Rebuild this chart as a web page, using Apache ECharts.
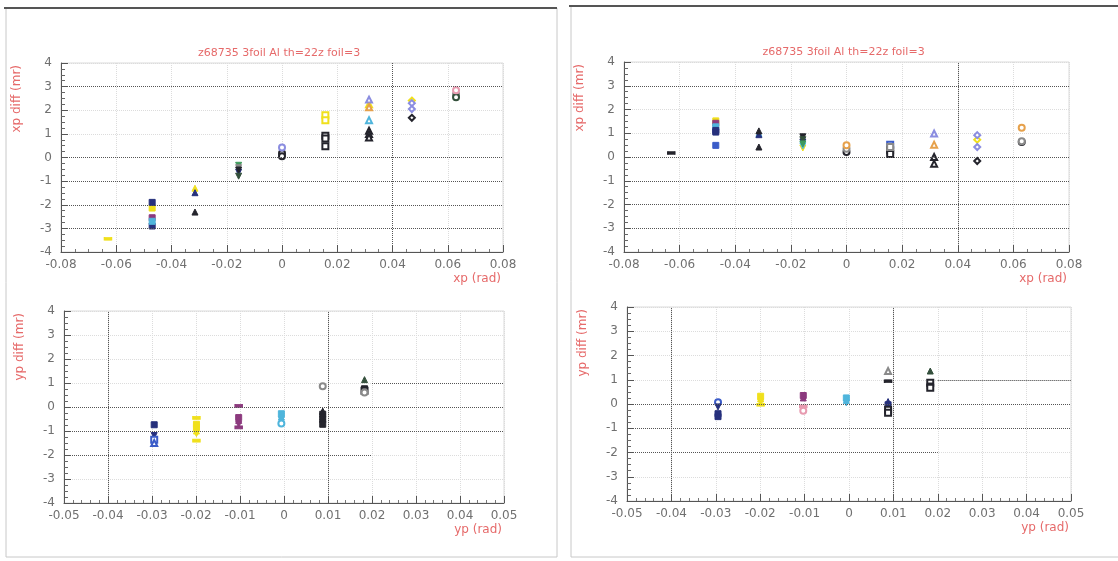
<!DOCTYPE html>
<html>
<head>
<meta charset="utf-8">
<title>z68735 3foil Al th=22z foil=3</title>
<script src="https://cdn.jsdelivr.net/npm/echarts@6/dist/echarts.min.js"></script>
<style>
html, body { margin: 0; padding: 0; background: #fff; }
#chart { width: 1118px; height: 561px; }
</style>
</head>
<body>
<div id="chart"></div>
<script>
// titles
var runTitle = 'z68735 3foil Al th=22z foil=3';
var xpRange = [-0.08, 0.08];
var ypRange = [-0.05, 0.05];
var diffRange = [-4, 4];

// sieve hole columns in xp, marker per column
var xpHoles = [-0.063, -0.047, -0.0315, -0.0157, 0, 0.0157, 0.0315, 0.047, 0.063];
var holeShapes = ['rect', 'rect', 'triangle', 'path://M0,0L10,0L5,9Z', 'emptyCircle',
  'emptyRect', 'emptyTriangle', 'emptyDiamond', 'emptyCircle'];

var colors = {
  navy: '#26307c', blue: '#3b5cc8', yellow: '#f0e01c', purple: '#8c3a7e',
  cyan: '#4fb5dc', green: '#3f9a5c', darkgreen: '#34503c', black: '#24242c',
  gray: '#8a8a8a', lavender: '#8b8de0', orange: '#e6a14c', pink: '#e79bb0'
};

// top left : xp diff vs xp   [xp, diff]
var tlYellow = [[-0.063, -3.44], [-0.047, -2.14], [-0.0315, -1.3], [0.0157, 1.79], [0.0157, 1.58], [0.0315, 2.25], [0.047, 2.41]];
var tlNavy = [[-0.047, -1.9], [-0.047, -2.9], [-0.0315, -1.49], [-0.0157, -0.62]];
var tlPurple = [[-0.047, -2.55]];
var tlCyan = [[-0.047, -2.7], [0.0315, 1.58]];
var tlGreen = [[-0.0157, -0.33]];
var tlGray = [[-0.0157, -0.43], [0.063, 2.68]];
var tlBlack = [[-0.0315, -2.31], [-0.0157, -0.53], [0, 0.18], [0, 0.05], [0.0157, 0.92], [0.0157, 0.8], [0.0157, 0.48],
  [0.0315, 1.13], [0.0315, 0.99], [0.0315, 0.85], [0.047, 1.68]];
var tlDarkgreen = [[-0.0157, -0.79], [0.063, 2.55]];
var tlLavender = [[0, 0.42], [0.0315, 2.45], [0.047, 2.3], [0.047, 2.05]];
var tlOrange = [[0.0315, 2.13]];
var tlPink = [[0.063, 2.85]];

// top right : xp diff vs xp
var trYellow = [[-0.047, 1.52], [-0.0157, 0.38], [0.047, 0.73]];
var trPurple = [[-0.047, 1.42]];
var trCyan = [[-0.047, 1.27], [-0.0315, 0.99], [-0.0157, 0.47]];
var trNavy = [[-0.047, 1.12], [-0.047, 1.05], [-0.0315, 0.94], [-0.0157, 0.63]];
var trBlue = [[-0.047, 0.49], [0.0157, 0.52]];
var trBlack = [[-0.063, 0.17], [-0.0315, 1.1], [-0.0315, 0.42], [-0.0157, 0.85], [0, 0.21], [0.0157, 0.28], [0.0157, 0.13],
  [0.0315, 0.0], [0.0315, -0.28], [0.047, -0.17], [0.063, 0.63]];
var trDarkgreen = [[-0.0157, 0.73]];
var trGreen = [[-0.0157, 0.55]];
var trGray = [[0, 0.35], [0.0157, 0.42], [0.063, 0.66]];
var trLavender = [[0.0315, 0.99], [0.047, 0.92], [0.047, 0.42]];
var trOrange = [[0, 0.49], [0.0315, 0.52], [0.063, 1.23]];

// bottom left : yp diff vs yp   [yp, diff, xp hole]
var blNavy = [[-0.0295, -0.74, 1], [-0.0295, -1.19, 3]];
var blBlue = [[-0.0295, -1.36, 5], [-0.0295, -1.5, 6]];
var blYellow = [[-0.0199, -0.45, 0], [-0.0199, -0.72, 1], [-0.0199, -0.85, 1], [-0.0199, -1.0, 2], [-0.0199, -1.11, 3], [-0.0199, -1.4, 0]];
var blPurple = [[-0.0103, 0.05, 0], [-0.0103, -0.44, 1], [-0.0103, -0.56, 2], [-0.0103, -0.72, 3], [-0.0103, -0.85, 0]];
var blCyan = [[-0.0006, -0.28, 1], [-0.0006, -0.42, 2], [-0.0006, -0.53, 3], [-0.0006, -0.69, 4]];
var blBlack = [[0.0088, -0.17, 2], [0.0088, -0.3, 1], [0.0088, -0.42, 3], [0.0088, -0.52, 1], [0.0088, -0.63, 3], [0.0088, -0.72, 1],
  [0.0183, 0.76, 1], [0.0183, 0.68, 5]];
var blGray = [[0.0088, 0.86, 4], [0.0183, 0.6, 4]];
var blDarkgreen = [[0.0183, 1.14, 2]];

// bottom right : yp diff vs yp
var brBlue = [[-0.0295, 0.07, 4]];
var brNavy = [[-0.0295, -0.12, 3], [-0.0295, -0.4, 1], [-0.0295, -0.52, 1], [0.0088, 0.1, 2], [0.0088, -0.03, 1]];
var brYellow = [[-0.0199, 0.32, 1], [-0.0199, 0.21, 2], [-0.0199, 0.07, 3], [-0.0199, -0.03, 0]];
var brPurple = [[-0.0103, 0.35, 1], [-0.0103, 0.25, 2]];
var brPink = [[-0.0103, -0.1, 0], [-0.0103, -0.28, 4]];
var brCyan = [[-0.0006, 0.25, 1], [-0.0006, 0.15, 2], [-0.0006, 0.04, 3]];
var brGray = [[0.0088, 1.36, 6]];
var brBlack = [[0.0088, 0.94, 0], [0.0088, -0.24, 5], [0.0088, -0.36, 5], [0.0183, 0.88, 5], [0.0183, 0.74, 1], [0.0183, 0.67, 5]];
var brDarkgreen = [[0.0183, 1.36, 2]];

// dark dotted grid lines that survived the scan
var topDarkY = [3, 0, -1, -2, -3];
var topDarkX = [0.04];
var botDarkY = [0, -1];
var botDarkX = [-0.04, 0.01];
var botDarkSeg = [[[-0.05, -2], [0.02, -2]], [[0.02, 1], [0.05, 1]]];

var panels = [
  { grid: { left: 61, top: 63, width: 442, height: 189 }, range: xpRange, step: 0.02, minor: 4,
    xName: 'xp (rad)', yName: 'xp diff (mr)', title: true,
    sets: [['yellow', tlYellow], ['navy', tlNavy], ['purple', tlPurple], ['cyan', tlCyan], ['green', tlGreen], ['gray', tlGray],
      ['black', tlBlack], ['darkgreen', tlDarkgreen], ['lavender', tlLavender], ['orange', tlOrange], ['pink', tlPink]] },
  { grid: { left: 624, top: 62, width: 445, height: 190 }, range: xpRange, step: 0.02, minor: 4,
    xName: 'xp (rad)', yName: 'xp diff (mr)', title: true,
    sets: [['yellow', trYellow], ['purple', trPurple], ['cyan', trCyan], ['navy', trNavy], ['blue', trBlue], ['black', trBlack],
      ['darkgreen', trDarkgreen], ['green', trGreen], ['gray', trGray], ['lavender', trLavender], ['orange', trOrange]] },
  { grid: { left: 64, top: 311, width: 440, height: 192 }, range: ypRange, step: 0.01, minor: 5,
    xName: 'yp (rad)', yName: 'yp diff (mr)', title: false,
    sets: [['navy', blNavy], ['blue', blBlue], ['yellow', blYellow], ['purple', blPurple], ['cyan', blCyan], ['black', blBlack],
      ['gray', blGray], ['darkgreen', blDarkgreen]] },
  { grid: { left: 627, top: 307, width: 444, height: 194 }, range: ypRange, step: 0.01, minor: 5,
    xName: 'yp (rad)', yName: 'yp diff (mr)', title: false,
    sets: [['blue', brBlue], ['navy', brNavy], ['yellow', brYellow], ['purple', brPurple], ['pink', brPink], ['cyan', brCyan],
      ['gray', brGray], ['black', brBlack], ['darkgreen', brDarkgreen]] }
];

function holeOf(v) {
  if (v.length > 2) return v[2];
  var best = 0;
  xpHoles.forEach(function (h, i) {
    if (Math.abs(h - v[0]) < Math.abs(xpHoles[best] - v[0])) best = i;
  });
  return best;
}

var labelFont = 'DejaVu Sans';
var grids = [], xAxes = [], yAxes = [], series = [], graphics = [];

panels.forEach(function (p, i) {
  grids.push(Object.assign({ show: true, borderColor: '#dadada', borderWidth: 1, backgroundColor: '#fff' }, p.grid));
  xAxes.push({
    gridIndex: i, type: 'value', min: p.range[0], max: p.range[1], interval: p.step,
    axisLine: { onZero: false, lineStyle: { color: '#555' } },
    axisTick: { inside: true, length: 7, lineStyle: { color: '#555' } },
    minorTick: { show: true, splitNumber: p.minor, length: 3, lineStyle: { color: '#777' } },
    axisLabel: { color: '#707070', fontSize: 12, margin: 7, fontFamily: labelFont },
    splitLine: { show: true, lineStyle: { type: 'dotted', color: '#dcdcdc' } }
  });
  yAxes.push({
    gridIndex: i, type: 'value', min: diffRange[0], max: diffRange[1], interval: 1,
    axisLine: { onZero: false, lineStyle: { color: '#555' } },
    axisTick: { inside: true, length: 7, lineStyle: { color: '#555' } },
    minorTick: { show: true, splitNumber: 4, length: 4, lineStyle: { color: '#666' } },
    axisLabel: { color: '#707070', fontSize: 12, margin: 9, fontFamily: labelFont },
    splitLine: { show: true, lineStyle: { type: 'dotted', color: '#dcdcdc' } }
  });

  // dark grid lines
  var lines = [];
  if (p.title) {
    topDarkY.forEach(function (v) { lines.push({ yAxis: v }); });
    topDarkX.forEach(function (v) { lines.push({ xAxis: v }); });
  } else {
    botDarkY.forEach(function (v) { lines.push({ yAxis: v }); });
    botDarkX.forEach(function (v) { lines.push({ xAxis: v }); });
    botDarkSeg.forEach(function (s) { lines.push([{ coord: s[0] }, { coord: s[1] }]); });
  }
  series.push({
    type: 'scatter', xAxisIndex: i, yAxisIndex: i, data: [], silent: true, z: 1,
    markLine: { silent: true, symbol: 'none', animation: false, label: { show: false },
      lineStyle: { type: 'dotted', color: '#555', width: 1 }, emphasis: { disabled: true }, data: lines }
  });

  p.sets.forEach(function (s) {
    series.push({
      name: s[0], type: 'scatter', xAxisIndex: i, yAxisIndex: i, z: 3,
      data: s[1],
      symbol: function (v) { return holeShapes[holeOf(v)]; },
      symbolSize: function (v) { return holeOf(v) === 0 ? [7, 3] : 6; },
      itemStyle: { color: colors[s[0]], borderColor: colors[s[0]], borderWidth: 1, opacity: 1 }
    });
  });

  var g = p.grid;
  if (p.title) {
    graphics.push({ type: 'text', x: g.left + g.width / 2 - 3, y: g.top - 10,
      style: { text: runTitle, fill: '#e66a6a', font: '11px ' + labelFont, align: 'center', verticalAlign: 'middle' } });
  }
  graphics.push({ type: 'text', x: g.left + g.width - 2, y: g.top + g.height + 27,
    style: { text: p.xName, fill: '#e66a6a', font: '12px ' + labelFont, align: 'right', verticalAlign: 'middle' } });
  graphics.push({ type: 'text', x: g.left - 44, y: g.top + 2, rotation: Math.PI / 2,
    style: { text: p.yName, fill: '#e66a6a', font: '12px ' + labelFont, align: 'right', verticalAlign: 'middle' } });
});

// page frames
graphics.unshift(
  { type: 'rect', shape: { x: 6, y: 8, width: 551, height: 549 }, style: { fill: 'none', stroke: '#c8c8c8', lineWidth: 1 } },
  { type: 'line', shape: { x1: 4, y1: 8, x2: 557, y2: 8 }, style: { stroke: '#555', lineWidth: 2 } },
  { type: 'rect', shape: { x: 571, y: 6, width: 560, height: 551 }, style: { fill: 'none', stroke: '#c8c8c8', lineWidth: 1 } },
  { type: 'line', shape: { x1: 569, y1: 6, x2: 1118, y2: 6 }, style: { stroke: '#555', lineWidth: 2 } }
);

var chart = echarts.init(document.getElementById('chart'));
chart.setOption({
  animation: false,
  backgroundColor: '#fff',
  grid: grids,
  xAxis: xAxes,
  yAxis: yAxes,
  series: series,
  graphic: graphics
});
</script>
</body>
</html>
